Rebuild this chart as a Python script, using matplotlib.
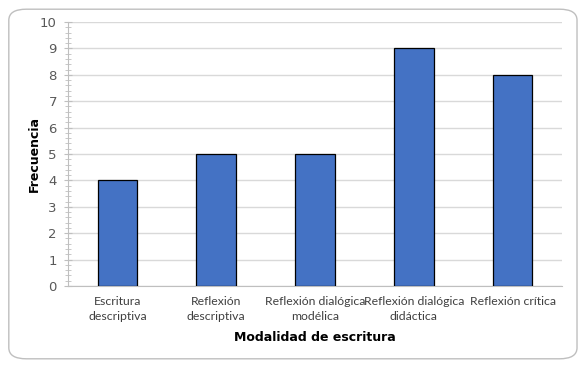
import numpy as np
import matplotlib.pyplot as plt
from matplotlib.patches import FancyBboxPatch
from matplotlib.ticker import MultipleLocator

# data
categorias = ["Escritura\ndescriptiva", "Reflexión\ndescriptiva",
              "Reflexión dialógica\nmodélica", "Reflexión dialógica\ndidáctica",
              "Reflexión crítica"]
frecuencia = [4, 5, 5, 9, 8]

fig = plt.figure(figsize=(5.87, 3.68), dpi=100)

# rounded frame around the chart
marco = FancyBboxPatch((0.015, 0.025), 0.968, 0.95,
                       boxstyle="round,pad=0,rounding_size=0.03",
                       transform=fig.transFigure, facecolor="white",
                       edgecolor="#bfbfbf", linewidth=1.0, zorder=-1)
fig.patches.append(marco)

ax = fig.add_axes([68/587, 1-286/368, (562-68)/587, (286-22)/368])
x = np.arange(len(categorias))
ax.bar(x, frecuencia, width=0.4, color="#4472c4", edgecolor="black",
       linewidth=0.9, zorder=3)

ax.set_xlim(-0.5, len(categorias)-0.5)
ax.set_ylim(0, 10)
ax.yaxis.set_major_locator(MultipleLocator(1))
ax.yaxis.set_minor_locator(MultipleLocator(0.2))
ax.grid(axis="y", color="#d9d9d9", linewidth=1.0, zorder=0)

for s in ["top", "right"]:
    ax.spines[s].set_visible(False)
ax.spines["left"].set_color("#bfbfbf")
ax.spines["bottom"].set_color("#bfbfbf")

ax.tick_params(axis="y", which="major", direction="inout", length=6,
               color="#bfbfbf", labelsize=9.5, labelcolor="#595959", pad=5)
ax.tick_params(axis="y", which="minor", direction="inout", length=4,
               color="#bfbfbf")
ax.tick_params(axis="x", length=0, pad=7)
ax.set_xticks(x)
ax.set_xticklabels(categorias, fontsize=8.8, color="#404040",
                   family=["Lato", "DejaVu Sans"], linespacing=1.5)

ax.set_ylabel("Frecuencia", fontsize=9, fontweight="bold")
ax.yaxis.set_label_coords(-0.054, 0.5)
ax.set_xlabel("Modalidad de escritura", fontsize=9, fontweight="bold",
              labelpad=6)

fig.savefig("out.png", dpi=100)
